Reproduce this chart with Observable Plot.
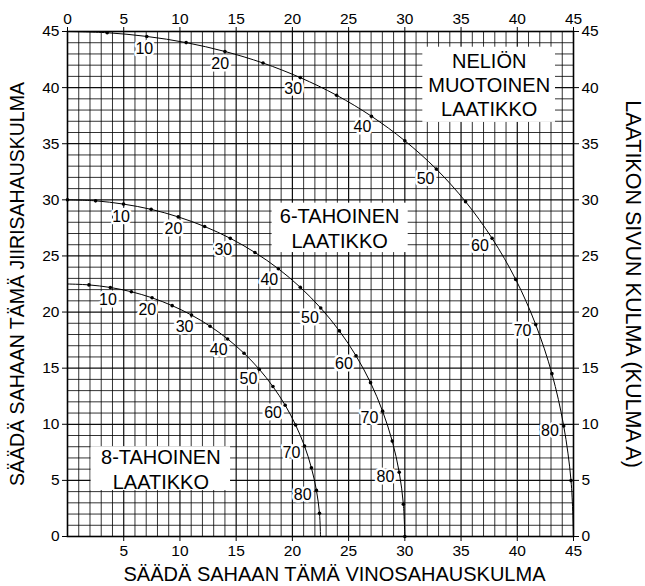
<!DOCTYPE html>
<html>
<head>
<meta charset="utf-8">
<script src="https://cdn.jsdelivr.net/npm/d3@7"></script>
<script src="https://cdn.jsdelivr.net/npm/@observablehq/plot@0.6"></script>
<style>
  html, body { margin: 0; padding: 0; background: #fff; }
  #chart svg { display: block; }
</style>
</head>
<body>
<div id="chart"></div>
<script>
// Side angle A of the box (degrees) at each plotted point
const sideAngles = [0, 5, 10, 15, 20, 25, 30, 35, 40, 45, 50, 55, 60, 65, 70, 75, 80, 85, 90];
// Labelled side angles along each curve
const labelAngles = [10, 20, 30, 40, 50, 60, 70, 80];

// Square box (NELIÖN MUOTOINEN LAATIKKO)
const squareBevel = [0, 3.53, 7.05, 10.55, 14.00, 17.39, 20.70, 23.93, 27.03, 30.00, 32.80, 35.40, 37.76, 39.86, 41.64, 43.08, 44.13, 44.78, 45];
const squareMiter = [45, 44.89, 44.56, 44.01, 43.22, 42.19, 40.89, 39.32, 37.45, 35.26, 32.74, 29.84, 26.57, 22.91, 18.88, 14.51, 9.85, 4.98, 0];

// 6-sided box (6-TAHOINEN LAATIKKO)
const hexBevel = [0, 2.50, 4.98, 7.44, 9.85, 12.20, 14.48, 16.67, 18.75, 20.70, 22.52, 24.18, 25.66, 26.95, 28.02, 28.88, 29.50, 29.87, 30];
const hexMiter = [30, 29.91, 29.62, 29.15, 28.48, 27.62, 26.57, 25.31, 23.86, 22.21, 20.36, 18.32, 16.10, 13.71, 11.17, 8.50, 5.73, 2.88, 0];

// 8-sided box (8-TAHOINEN LAATIKKO)
const octBevel = [0, 1.91, 3.81, 5.68, 7.52, 9.31, 11.03, 12.68, 14.24, 15.70, 17.05, 18.27, 19.36, 20.29, 21.08, 21.69, 22.14, 22.41, 22.5];
const octMiter = [22.5, 22.42, 22.19, 21.81, 21.27, 20.57, 19.73, 18.74, 17.60, 16.33, 14.91, 13.36, 11.70, 9.93, 8.06, 6.12, 4.11, 2.07, 0];

// Axis ticks
const topTicks = [0, 5, 10, 15, 20, 25, 30, 35, 40, 45];
const bottomTicks = [5, 10, 15, 20, 25, 30, 35, 40, 45];
const yTicks = [0, 5, 10, 15, 20, 25, 30, 35, 40, 45];

// Texts
const boxNames = ["NELIÖN\nMUOTOINEN\nLAATIKKO", "6-TAHOINEN\nLAATIKKO", "8-TAHOINEN\nLAATIKKO"];
const xTitle = "SÄÄDÄ SAHAAN TÄMÄ VINOSAHAUSKULMA";
const yTitle = "SÄÄDÄ SAHAAN TÄMÄ JIIRISAHAUSKULMA";
const y2Title = "LAATIKON SIVUN KULMA (KULMA A)";

// ---- build tables ----
function rows(curve, bevel, miter) {
  return sideAngles.map((a, i) => ({curve, a, x: bevel[i], y: miter[i]}));
}
const square = rows("square", squareBevel, squareMiter);
const hex = rows("hex", hexBevel, hexMiter);
const oct = rows("oct", octBevel, octMiter);
const all = [...square, ...hex, ...oct];

const dots = all.filter(d => (d.a > 0 && d.a < 90) || d.curve === "hex");

// label boxes (layout)
const boxes = [
  {text: boxNames[0], x1: 31.6, x2: 43.4, y1: 36.9, y2: 43.6, cx: 37.5, cy: 40.3},
  {text: boxNames[1], x1: 18.2, x2: 30.3, y1: 25.3, y2: 29.7, cx: 24.2, cy: 27.5},
  {text: boxNames[2], x1: 2.1, x2: 14.5, y1: 4.1, y2: 8.0, cx: 8.3, cy: 6.05}
];

const font = "'Liberation Sans', Arial, Helvetica, sans-serif";
const gridVals = d3.range(1, 45);

const labelMarks = labelAngles.map(a => {
  const r = a * Math.PI / 180;
  return Plot.text(all.filter(d => d.a === a), {
    x: "x", y: "y", text: d => String(d.a),
    dx: -14 * Math.sin(r), dy: 3 + 10 * Math.cos(r),
    fill: "black", stroke: "white", strokeWidth: 5, paintOrder: "stroke",
    strokeLinejoin: "round", fontSize: 16
  });
});

const chart = Plot.plot({
  width: 645,
  height: 586,
  marginLeft: 67,
  marginRight: 72,
  marginTop: 31,
  marginBottom: 50,
  style: {fontFamily: font, fontSize: "15px", color: "black", background: "white"},
  x: {domain: [0, 45]},
  y: {domain: [0, 45]},
  marks: [
    // grid
    Plot.ruleX(gridVals, {x: d => d, y1: 0, y2: 45, stroke: "black", strokeWidth: d => d % 5 === 0 ? 1.2 : 1, strokeOpacity: d => d % 5 === 0 ? 0.95 : 0.8}),
    Plot.ruleY(gridVals, {y: d => d, x1: 0, x2: 45, stroke: "black", strokeWidth: d => d % 5 === 0 ? 1.2 : 1, strokeOpacity: d => d % 5 === 0 ? 0.95 : 0.8}),
    Plot.frame({stroke: "black", strokeWidth: 1.6}),
    // white label boxes
    Plot.rect(boxes, {x1: "x1", x2: "x2", y1: "y1", y2: "y2", fill: "white"}),
    // curves
    Plot.line(square, {x: "x", y: "y", curve: "catmull-rom", stroke: "black", strokeWidth: 1}),
    Plot.line(hex, {x: "x", y: "y", curve: "catmull-rom", stroke: "black", strokeWidth: 1}),
    Plot.line(oct, {x: "x", y: "y", curve: "catmull-rom", stroke: "black", strokeWidth: 1}),
    Plot.dot(dots, {x: "x", y: "y", r: 1.8, fill: "black"}),
    ...labelMarks,
    // box texts
    Plot.text(boxes, {x: "cx", y: "cy", text: "text", fontSize: 20, lineHeight: 1.22, fill: "black"}),
    // axes
    Plot.axisX({anchor: "top", ticks: topTicks, tickSize: 5, tickPadding: 3, label: null, fontSize: 15.5}),
    Plot.axisX({anchor: "bottom", ticks: bottomTicks, tickSize: 5, tickPadding: 3, label: null, fontSize: 15.5}),
    Plot.axisY({anchor: "left", ticks: yTicks, tickSize: 5, tickPadding: 3, label: null, fontSize: 15.5}),
    Plot.axisY({anchor: "right", ticks: yTicks, tickSize: 5, tickPadding: 3, label: null, fontSize: 15.5}),
    // axis titles
    Plot.text([xTitle], {text: d => d, frameAnchor: "bottom", dx: 14, dy: 38, textAnchor: "middle", lineAnchor: "middle", fontSize: 20}),
    Plot.text([yTitle], {text: d => d, frameAnchor: "left", dx: -50, rotate: -90, textAnchor: "middle", lineAnchor: "middle", fontSize: 19.5}),
    Plot.text([y2Title], {text: d => d, frameAnchor: "right", dx: 59, rotate: 90, textAnchor: "middle", lineAnchor: "middle", fontSize: 21.5})
  ]
});
document.getElementById("chart").appendChild(chart);
</script>
</body>
</html>
